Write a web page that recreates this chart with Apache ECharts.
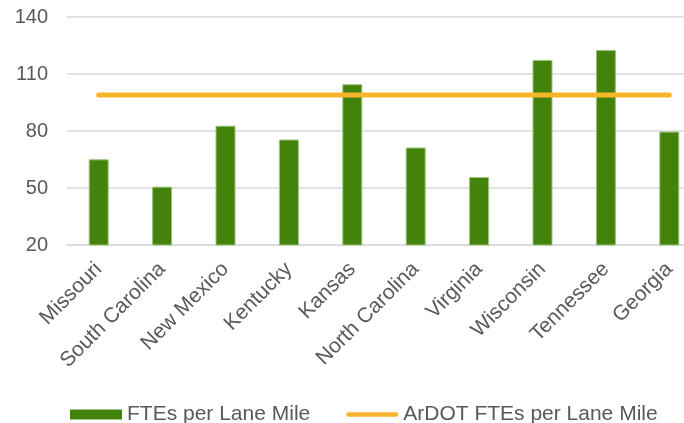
<!DOCTYPE html>
<html>
<head>
<meta charset="utf-8">
<script src="https://cdn.jsdelivr.net/npm/echarts@6/dist/echarts.min.js"></script>
<style>
html,body{margin:0;padding:0;background:#fff;}
#chart{width:684px;height:423px;}
</style>
</head>
<body>
<div id="chart"></div>
<script>
const categories = ['Missouri','South Carolina','New Mexico','Kentucky','Kansas','North Carolina','Virginia','Wisconsin','Tennessee','Georgia'];
const ftesPerLaneMile = [65.1, 50.7, 82.8, 75.5, 104.6, 71.3, 55.8, 117.4, 122.6, 79.7];
const ardotFtesPerLaneMile = [99, 99, 99, 99, 99, 99, 99, 99, 99, 99];
const yTicks = {min: 20, max: 140, interval: 30};

const chart = echarts.init(document.getElementById('chart'), null, {renderer: 'canvas'});
const font = 'Liberation Sans, Arial, sans-serif';
chart.setOption({
  animation: false,
  textStyle: {fontFamily: font},
  grid: {left: 67, width: 634, top: 17, bottom: 178, containLabel: false, outerBoundsMode: 'none'},
  legend: {
    left: 65, top: 399,
    itemWidth: 52, itemHeight: 10, itemGap: 36,
    textStyle: {fontSize: 21, color: '#595959', fontFamily: font},
    data: [
      {name: 'FTEs per Lane Mile', icon: 'rect', itemStyle: {borderWidth: 0}},
      {name: 'ArDOT FTEs per Lane Mile', icon: 'path://M2.5,0 L53.5,0 A2.5,2.5 0 0 1 53.5,5 L2.5,5 A2.5,2.5 0 0 1 2.5,0 Z'}
    ]
  },
  xAxis: {
    type: 'category',
    data: categories,
    axisLine: {show: true, lineStyle: {color: '#d9d9d9', width: 1.5}},
    axisTick: {show: false},
    axisLabel: {rotate: 45, fontSize: 21, color: '#595959', margin: 21, interval: 0, fontFamily: font}
  },
  yAxis: {
    type: 'value',
    min: yTicks.min, max: yTicks.max, interval: yTicks.interval,
    axisLine: {show: false},
    axisTick: {show: false},
    axisLabel: {fontSize: 20, color: '#595959', margin: 19, fontFamily: font},
    splitLine: {lineStyle: {color: '#d9d9d9', width: 1.5}}
  },
  series: [
    {
      name: 'FTEs per Lane Mile',
      type: 'bar',
      data: ftesPerLaneMile,
      barWidth: 20,
      itemStyle: {color: '#43830C', borderColor: '#9cc47c', borderWidth: 1}
    },
    {
      name: 'ArDOT FTEs per Lane Mile',
      type: 'line',
      data: ardotFtesPerLaneMile,
      symbol: 'none',
      lineStyle: {color: '#F7B52A', width: 5, cap: 'round'},
      itemStyle: {color: '#F7B52A'}
    }
  ]
});
</script>
</body>
</html>
